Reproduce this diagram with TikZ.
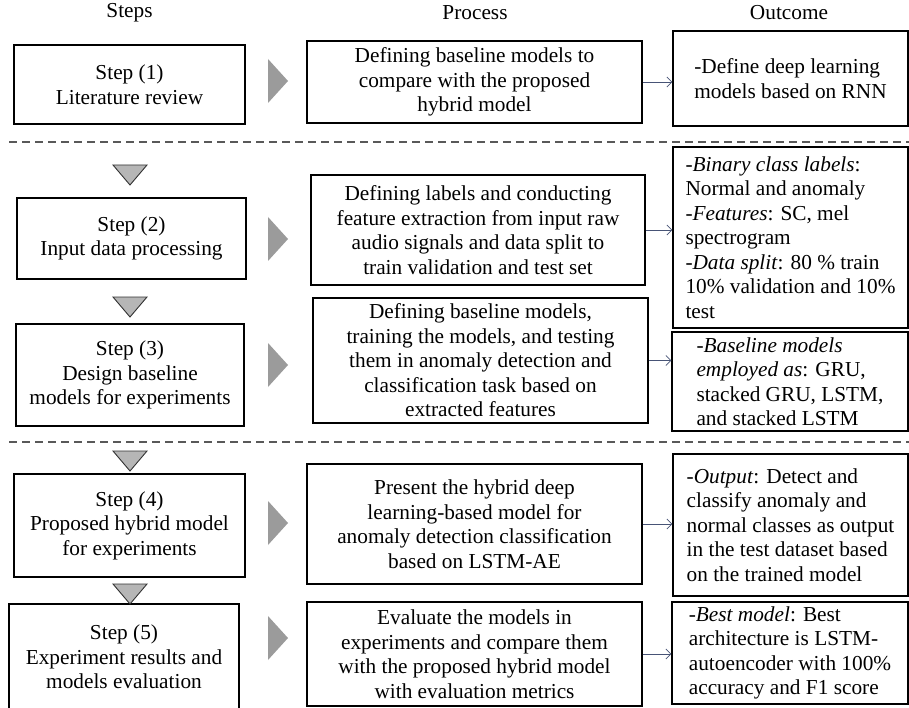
\documentclass[tikz,border=0pt]{standalone}
\usepackage{fontspec}
\setmainfont{Liberation Serif}
\usetikzlibrary{arrows.meta}
\definecolor{tipgray}{RGB}{155,155,155}
\definecolor{downgray}{RGB}{182,182,182}
\definecolor{linkblue}{RGB}{72,84,118}
\begin{document}
\begin{tikzpicture}[
			x=1pt, y=-1pt,
			font=\fontsize{21.3}{24.5}\selectfont,
			stepbox/.style={draw, line width=1.2pt, align=center, inner sep=2pt},
			procbox/.style={draw, line width=1.2pt, align=center, inner sep=2pt},
			outbox/.style={draw, line width=1.2pt, align=left, inner sep=2pt},
			head/.style={inner sep=0pt},
			link/.style={-{Straight Barb[length=5pt,width=10pt]}, draw=linkblue, line width=0.8pt},
			divider/.style={draw=black!65, line width=1.5pt, dash pattern=on 8pt off 5pt}
		]
		\useasboundingbox (0,0) rectangle (909,708);
		% column heads
		\node[head] (hsteps) at (129.5,13) {Steps};
		\node[head] (hprocess) at (475,13) {Process};
		\node[head] (houtcome) at (789,13) {Outcome};
		% steps
		\node[stepbox, minimum width=231, minimum height=79] (s1) at (129.5,84.5) {Step (1)\\Literature review};
		\node[stepbox, minimum width=229, minimum height=81] (s2) at (131.5,238.5) {Step (2)\\Input data processing};
		\node[stepbox, minimum width=228, minimum height=102] (s3) at (130,375) {Step (3)\\Design baseline\\models for experiments};
		\node[stepbox, minimum width=231, minimum height=103] (s4) at (129.5,525.5) {Step (4)\\Proposed hybrid model\\for experiments};
		\node[stepbox, minimum width=230, minimum height=106] (s5) at (124,657) {Step (5)\\Experiment results and\\models evaluation};
		% process
		\node[procbox, minimum width=335, minimum height=82] (p1) at (474.5,82) {Defining baseline models to\\compare with the proposed\\hybrid model};
		\node[procbox, minimum width=334, minimum height=110] (p2) at (478,230) {Defining labels and conducting\\feature extraction from input raw\\audio signals and data split to\\train validation and test set};
		\node[procbox, minimum width=335, minimum height=125] (p3) at (480.5,360.5) {Defining baseline models,\\training the models, and testing\\them in anomaly detection and\\classification task based on\\extracted features};
		\node[procbox, minimum width=335, minimum height=120] (p4) at (474.5,524) {Present the hybrid deep\\learning-based model for\\anomaly detection classification\\based on LSTM-AE};
		\node[procbox, minimum width=335, minimum height=104] (p5) at (474.5,654) {Evaluate the models in\\experiments and compare them\\with the proposed hybrid model\\with evaluation metrics};
		% outcome
		\node[outbox, minimum width=235, minimum height=95] (o1) at (790.5,78.5) {-Define deep learning\\models based on RNN};
		\node[outbox, minimum width=235, minimum height=181] (o2) at (790.5,237.5) {-\textit{Binary class labels}:\\Normal and anomaly\\-\textit{Features}: SC, mel\\spectrogram\\-\textit{Data split}: 80 \% train\\10\% validation and 10\%\\test};
		\node[outbox, minimum width=236, minimum height=99] (o3) at (790,381.5) {-\textit{Baseline models}\\\textit{employed as}: GRU,\\stacked GRU, LSTM,\\and stacked LSTM};
		\node[outbox, minimum width=235, minimum height=142] (o4) at (790.5,525) {-\textit{Output}: Detect and\\classify anomaly and\\normal classes as output\\in the test dataset based\\on the trained model};
		\node[outbox, minimum width=236, minimum height=102] (o5) at (790,653) {-\textit{Best model}: Best\\architecture is LSTM-\\autoencoder with 100\%\\accuracy and F1 score};
		% links process -> outcome
		\foreach \i in {1,...,5}
			\draw[link] (p\i.east) -- (p\i.east -| o\i.west);
		% grey pointers
		\foreach \y in {81,239,365,523,638}
			\fill[tipgray] (268,\y-22) -- (288,\y) -- (268,\y+22) -- cycle;
		\foreach \y in {165,297,451,584}
			\filldraw[fill=downgray, draw=black!80, line width=0.9pt] (113,\y) -- (147,\y) -- (130,\y+20) -- cycle;
		% dividers
		\draw[divider] (9,142) -- (909,142);
		\draw[divider] (9,442) -- (909,442);
	\end{tikzpicture}
\end{document}
